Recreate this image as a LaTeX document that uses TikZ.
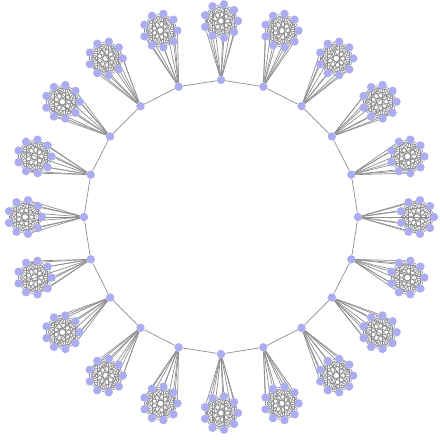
\documentclass[tikz,border=0pt]{standalone}
\usetikzlibrary{backgrounds}
\definecolor{nodecol}{RGB}{172,172,240}
\definecolor{edgecol}{RGB}{142,142,142}
\begin{document}
\begin{tikzpicture}[x=1pt,y=-1pt,
  vert/.style={circle,fill=nodecol,inner sep=0pt,minimum size=8.4pt},
  edge/.style={draw=edgecol,line width=0.7pt}]
\useasboundingbox (0,0) rectangle (440,440);
\foreach \i in {0,...,19}{
  \pgfmathsetmacro\ang{90+18*\i}
  \node[vert] (h\i) at ({221+137*cos(\ang)},{217-137*sin(\ang)}) {};
  \foreach \j in {0,...,8}{
    \node[vert] (c\i-\j) at ({221+196*cos(\ang)+17*cos(40*\j)},{217-196*sin(\ang)-17*sin(40*\j)}) {};
  }
}
\begin{scope}[on background layer]
\foreach \i [evaluate=\i as \n using {int(mod(\i+1,20))}] in {0,...,19}{
  \draw[edge] (h\i) -- (h\n);
  \foreach \j in {0,...,8}{
    \draw[edge] (h\i) -- (c\i-\j);
    \foreach \k in {0,...,8}{
      \ifnum\k>\j \draw[edge] (c\i-\j) -- (c\i-\k);\fi
    }
  }
}
\end{scope}
\end{tikzpicture}
\end{document}
